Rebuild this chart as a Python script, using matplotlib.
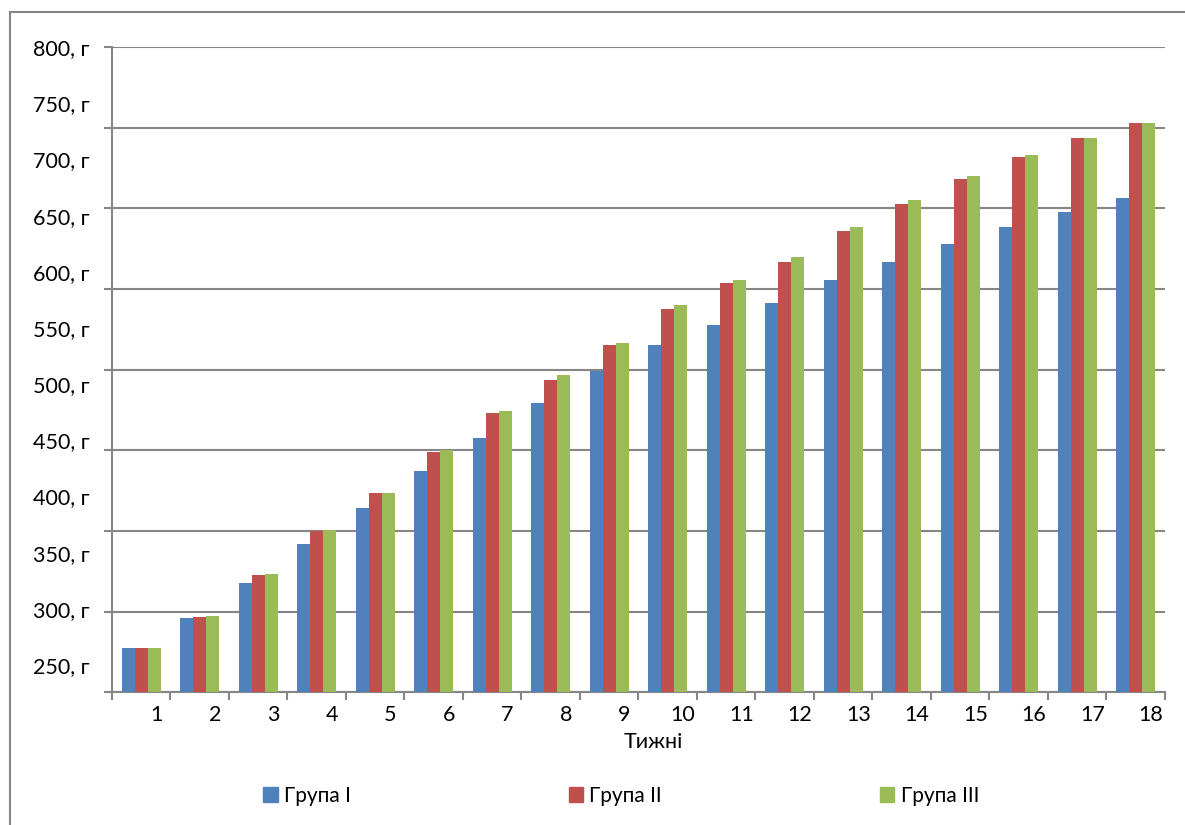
import numpy as np
import matplotlib.pyplot as plt
from matplotlib.patches import Patch, Rectangle
from matplotlib.ticker import NullFormatter

plt.rcParams['font.family'] = ['Lato', 'Open Sans', 'DejaVu Sans']

# weekly body weight, grams
weeks = list(range(1, 19))
group_1 = [265, 292, 323, 358, 390, 423, 452, 483, 512, 535, 553, 572,
           593, 609, 625, 640, 653, 666]
group_2 = [265, 293, 330, 369, 403, 440, 474, 504, 535, 567, 590, 609,
           636, 660, 683, 702, 719, 732]
group_3 = [265, 294, 331, 370, 403, 441, 476, 508, 537, 570, 593, 613,
           640, 664, 685, 704, 719, 732]
group_names = ['Група I', 'Група II', 'Група III']
colors = ['#4F81BD', '#C0504D', '#9BBB59']
y_labels = list(range(250, 801, 50))

grid_col = '#868686'
y_bottom = 225.7
y_top = 800

fig = plt.figure(figsize=(11.85, 8.25), dpi=100)
ax = fig.add_axes([0.0945, 0.1608, 0.8886, 0.7822])

x = np.arange(1, 19)
w = 2 / 9
for k, (vals, name, col) in enumerate(zip([group_1, group_2, group_3], group_names, colors)):
    ax.bar(x + (k - 1) * w, vals, w, color=col, label=name, zorder=3)

ax.set_xlim(0.5, 18.5)
ax.set_ylim(y_bottom, y_top + 0.05)

# horizontal gridlines are evenly spaced, labels sit on their own ticks
ax.yaxis.remove_overlapping_locs = False
ax.set_yticks(np.linspace(y_bottom, y_top, 9), minor=True)
ax.yaxis.grid(True, which='minor', color=grid_col, lw=1.5)
ax.set_yticks(y_labels, [f'{v}, г' for v in y_labels])
ax.tick_params(axis='y', which='major', length=0, pad=16, labelsize=15.5)
ax.tick_params(axis='y', which='minor', length=6, width=1.5, color=grid_col)

# category boundary ticks, labels shifted to the right
ax.set_xticks(np.arange(0.5, 19, 1))
ax.xaxis.set_major_formatter(NullFormatter())
ax.set_xticks(x + 0.26, [str(wk) for wk in weeks], minor=True)
ax.tick_params(axis='x', which='major', length=6, width=1.5, color=grid_col)
ax.tick_params(axis='x', which='minor', length=0, pad=9, labelsize=15.5)

for side in ['top', 'right']:
    ax.spines[side].set_visible(False)
for side in ['left', 'bottom']:
    ax.spines[side].set_color(grid_col)
    ax.spines[side].set_linewidth(1.5)
ax.set_axisbelow(True)

fig.text(653 / 1185, 1 - 742 / 825, 'Тижні', ha='center', va='center', fontsize=15.5)

handles = [Patch(color=c) for c in colors]
fig.legend(handles, group_names, loc='center', bbox_to_anchor=(621 / 1185, 1 - 796 / 825),
           ncol=3, frameon=False, prop={'size': 15},
           handlelength=0.7, handleheight=0.75, handletextpad=0.3, columnspacing=10.45)

# outer chart frame
fig.add_artist(Rectangle((10 / 1185, -0.05), 1.2, (825 - 12) / 825 + 0.05,
                         transform=fig.transFigure, fill=False,
                         edgecolor=grid_col, lw=1.5))

fig.savefig('out.png', dpi=100)
